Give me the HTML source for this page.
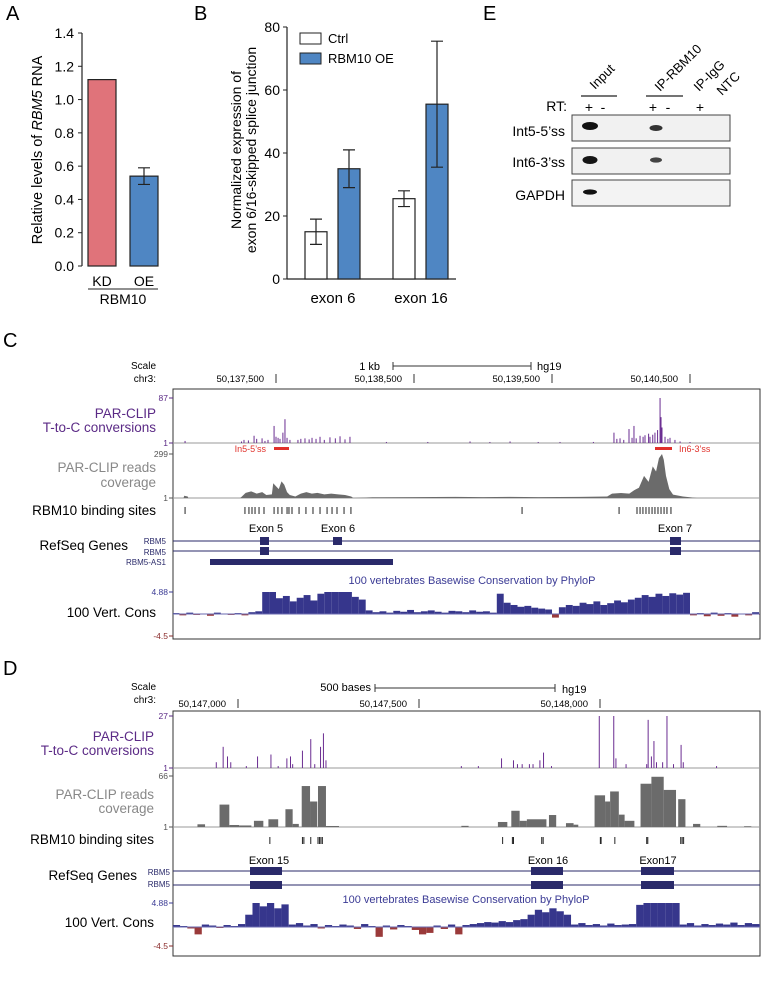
<!DOCTYPE html>
<html><head><meta charset="utf-8"><style>
html,body{margin:0;padding:0;background:#fff;}
svg{display:block;font-family:"Liberation Sans",sans-serif;}
</style></head><body>
<svg id="fig" width="761" height="983" viewBox="0 0 761 983" xmlns="http://www.w3.org/2000/svg">
<text x="6" y="20" font-size="20">A</text>
<text x="194" y="20" font-size="20">B</text>
<text x="483" y="20" font-size="20">E</text>
<text x="3" y="347" font-size="20">C</text>
<text x="3" y="675" font-size="20">D</text>

<g>
<line x1="82" y1="33" x2="82" y2="266" stroke="#222" stroke-width="1.2"/>
<text transform="translate(42,150) rotate(-90)" text-anchor="middle" font-size="14.5">Relative levels of <tspan font-style="italic">RBM5</tspan> RNA</text>
<text x="102" y="286" text-anchor="middle" font-size="14">KD</text>
<text x="144" y="286" text-anchor="middle" font-size="14">OE</text>
<line x1="88" y1="289" x2="158" y2="289" stroke="#222" stroke-width="1"/>
<text x="123" y="304" text-anchor="middle" font-size="14">RBM10</text>
</g>

<g>
<line x1="287" y1="27" x2="287" y2="279" stroke="#222" stroke-width="1.2"/>
<line x1="287" y1="279" x2="456" y2="279" stroke="#222" stroke-width="1.2"/>
<text transform="translate(241,150) rotate(-90)" text-anchor="middle" font-size="14">Normalized expression of</text>
<text transform="translate(256,150) rotate(-90)" text-anchor="middle" font-size="14">exon 6/16-skipped splice junction</text>
<text x="333" y="303" text-anchor="middle" font-size="15">exon 6</text>
<text x="421" y="303" text-anchor="middle" font-size="15">exon 16</text>
<rect x="300" y="33" width="21" height="11" fill="#fff" stroke="#222"/>
<text x="328" y="43" font-size="13">Ctrl</text>
<rect x="300" y="53" width="21" height="11" fill="#4f86c3" stroke="#222"/>
<text x="328" y="63" font-size="13">RBM10 OE</text>
</g>

<g>
<text transform="translate(595,90) rotate(-45)" font-size="13">Input</text>
<text transform="translate(660,92) rotate(-45)" font-size="13">IP-RBM10</text>
<text transform="translate(699,92) rotate(-45)" font-size="13">IP-IgG</text>
<text transform="translate(722,96) rotate(-45)" font-size="13">NTC</text>
<line x1="581" y1="96" x2="617" y2="96" stroke="#222" stroke-width="1.3"/>
<line x1="646" y1="96" x2="683" y2="96" stroke="#222" stroke-width="1.3"/>
<text x="567" y="111" text-anchor="end" font-size="14">RT:</text>
<text x="589" y="112" text-anchor="middle" font-size="14">+</text>
<text x="603" y="112" text-anchor="middle" font-size="14">-</text>
<text x="653" y="112" text-anchor="middle" font-size="14">+</text>
<text x="668" y="112" text-anchor="middle" font-size="14">-</text>
<text x="700" y="112" text-anchor="middle" font-size="14">+</text>
<rect x="572" y="115" width="158" height="26" fill="#f1f1f1" stroke="#444"/>
<rect x="572" y="148" width="158" height="26" fill="#f1f1f1" stroke="#444"/>
<rect x="572" y="180" width="158" height="26" fill="#f3f3f3" stroke="#444"/>
<text x="565" y="136" text-anchor="end" font-size="14">Int5-5’ss</text>
<text x="565" y="167" text-anchor="end" font-size="14">Int6-3’ss</text>
<text x="565" y="200" text-anchor="end" font-size="14">GAPDH</text>
<ellipse cx="590" cy="126" rx="8" ry="4" fill="#111"/>
<ellipse cx="656" cy="128" rx="6.5" ry="3" fill="#333"/>
<ellipse cx="590" cy="160" rx="7.5" ry="4" fill="#151515"/>
<ellipse cx="656" cy="160" rx="6" ry="2.6" fill="#444"/>
<ellipse cx="590" cy="192" rx="7" ry="2.6" fill="#111"/>
</g>

<g font-size="10">
<text x="156" y="369" text-anchor="end">Scale</text>
<text x="156" y="382" text-anchor="end">chr3:</text>
<text x="380" y="370" text-anchor="end" font-size="11">1 kb</text>
<line x1="393" y1="366" x2="531" y2="366" stroke="#333"/>
<line x1="393" y1="362" x2="393" y2="370" stroke="#333"/><line x1="531" y1="362" x2="531" y2="370" stroke="#333"/>
<text x="537" y="370" font-size="11">hg19</text>
<rect x="173" y="389" width="587" height="250" fill="none" stroke="#333"/>
<text x="156" y="418" text-anchor="end" font-size="13.5" fill="#5b2a86">PAR-CLIP</text>
<text x="156" y="432" text-anchor="end" font-size="13.5" fill="#5b2a86">T-to-C conversions</text>
<text x="156" y="472" text-anchor="end" font-size="13.5" fill="#888">PAR-CLIP reads</text>
<text x="156" y="487" text-anchor="end" font-size="13.5" fill="#888">coverage</text>
<text x="156" y="515" text-anchor="end" font-size="13.5">RBM10 binding sites</text>
<text x="128" y="550" text-anchor="end" font-size="13.5">RefSeq Genes</text>
<text x="156" y="617" text-anchor="end" font-size="13.5">100 Vert. Cons</text>
<text x="472" y="584" text-anchor="middle" font-size="11" fill="#3b3b95">100 vertebrates Basewise Conservation by PhyloP</text>
<text x="266" y="452" text-anchor="end" font-size="9" fill="#e0302a">In5-5’ss</text>
<rect x="274" y="447" width="15" height="3" fill="#e0302a"/>
<text x="679" y="452" font-size="9" fill="#e0302a">In6-3’ss</text>
<rect x="655" y="447" width="17" height="3" fill="#e0302a"/>
<text x="266" y="532" text-anchor="middle" font-size="11">Exon 5</text>
<text x="338" y="532" text-anchor="middle" font-size="11">Exon 6</text>
<text x="675" y="532" text-anchor="middle" font-size="11">Exon 7</text>
<text x="166" y="544" text-anchor="end" font-size="8" fill="#2a2a6a">RBM5</text>
<text x="166" y="555" text-anchor="end" font-size="8" fill="#2a2a6a">RBM5</text>
<text x="166" y="565" text-anchor="end" font-size="8" fill="#2a2a6a">RBM5-AS1</text>
<line x1="173" y1="541" x2="760" y2="541" stroke="#2a2a6a"/>
<line x1="173" y1="551" x2="760" y2="551" stroke="#2a2a6a"/>
<rect x="260" y="537" width="9" height="8" fill="#2a2a6a"/><rect x="333" y="537" width="9" height="8" fill="#2a2a6a"/><rect x="670" y="537" width="11" height="8" fill="#2a2a6a"/>
<rect x="260" y="547" width="9" height="8" fill="#2a2a6a"/><rect x="670" y="547" width="11" height="8" fill="#2a2a6a"/>
<rect x="210" y="559" width="183" height="6" fill="#2a2a6a"/>
</g>

<g font-size="10">
<text x="156" y="690" text-anchor="end">Scale</text>
<text x="156" y="703" text-anchor="end">chr3:</text>
<text x="371" y="691" text-anchor="end" font-size="11">500 bases</text>
<line x1="375" y1="688" x2="555" y2="688" stroke="#333"/>
<line x1="375" y1="684" x2="375" y2="692" stroke="#333"/><line x1="555" y1="684" x2="555" y2="692" stroke="#333"/>
<text x="562" y="693" font-size="11">hg19</text>
<rect x="173" y="711" width="587" height="245" fill="none" stroke="#333"/>
<text x="154" y="741" text-anchor="end" font-size="13.5" fill="#5b2a86">PAR-CLIP</text>
<text x="154" y="755" text-anchor="end" font-size="13.5" fill="#5b2a86">T-to-C conversions</text>
<text x="154" y="799" text-anchor="end" font-size="13.5" fill="#888">PAR-CLIP reads</text>
<text x="154" y="813" text-anchor="end" font-size="13.5" fill="#888">coverage</text>
<text x="154" y="844" text-anchor="end" font-size="13.5">RBM10 binding sites</text>
<text x="137" y="880" text-anchor="end" font-size="13.5">RefSeq Genes</text>
<text x="154" y="927" text-anchor="end" font-size="13.5">100 Vert. Cons</text>
<text x="466" y="903" text-anchor="middle" font-size="11" fill="#3b3b95">100 vertebrates Basewise Conservation by PhyloP</text>
<text x="269" y="864" text-anchor="middle" font-size="11">Exon 15</text>
<text x="548" y="864" text-anchor="middle" font-size="11">Exon 16</text>
<text x="658" y="864" text-anchor="middle" font-size="11">Exon17</text>
<text x="170" y="875" text-anchor="end" font-size="8" fill="#2a2a6a">RBM5</text>
<text x="170" y="887" text-anchor="end" font-size="8" fill="#2a2a6a">RBM5</text>
<line x1="173" y1="871" x2="760" y2="871" stroke="#2a2a6a"/>
<line x1="173" y1="885" x2="760" y2="885" stroke="#2a2a6a"/>
<rect x="250" y="867" width="32" height="8" fill="#2a2a6a"/><rect x="531" y="867" width="32" height="8" fill="#2a2a6a"/><rect x="641" y="867" width="33" height="8" fill="#2a2a6a"/>
<rect x="250" y="881" width="32" height="8" fill="#2a2a6a"/><rect x="531" y="881" width="32" height="8" fill="#2a2a6a"/><rect x="641" y="881" width="33" height="8" fill="#2a2a6a"/>
</g>
</svg>
<script>
const aCategories = ["KD", "OE"];
const aValues = [1.12, 0.54];
const aErrors = [0, 0.05];
const aTicks = [0, 0.2, 0.4, 0.6, 0.8, 1.0, 1.2, 1.4];
const bCategories = ["exon 6", "exon 16"];
const bCtrl = [15, 25.5];
const bCtrlErr = [4, 2.5];
const bOE = [35, 55.5];
const bOEErr = [6, 20];
const bTicks = [0, 20, 40, 60, 80];
const cTickPositions = [500, 1500, 2500, 3500];
const cTickLabels = ["50,137,500", "50,138,500", "50,139,500", "50,140,500"];
const cTcPos = [-159,250,268,300,341,360,399,420,442,486,500,515,529,550,565,580,601,659,680,710,740,761,790,819,850,891,930,964,1000,1036,1300,1600,1906,2050,2196,2400,2558,2800,2949,2970,2993,3020,3058,3080,3094,3110,3138,3160,3174,3200,3210,3230,3246,3265,3283,3290,3297,3319,3340,3355,3391,3428,3500];
const cTcVal = [4,3,6,5,14,8,9,4,6,33,12,10,8,20,46,10,6,6,8,9,7,10,8,12,6,11,9,13,7,12,2,2,3,2,3,2,2,2,20,8,9,6,27,10,33,9,14,12,15,18,12,16,20,25,87,50,30,12,8,10,6,3,2];
const cCovPos = [-246,-170,-165,-140,-135,240,250,280,320,360,400,430,470,480,500,520,540,560,580,600,640,680,720,760,800,850,900,950,1000,1045,1060,1200,1500,1800,2000,2200,2400,2700,2900,2935,3000,3060,3094,3130,3167,3200,3230,3254,3275,3297,3310,3326,3350,3377,3449,3500,3550,4007];
const cCovVal = [0,0,15,10,0,0,8,35,45,30,40,20,25,100,80,60,113,90,40,20,10,30,40,30,35,25,30,25,20,10,0,5,6,8,6,8,6,8,10,30,34,30,52,70,150,110,215,180,270,299,260,150,60,23,10,5,0,0];
const cSites = [-159,275,304,326,348,377,413,486,514,543,580,616,594,667,717,768,819,870,906,942,993,1043,2283,2986,3116,3138,3159,3181,3203,3225,3246,3268,3290,3312,3333,3362];
const cConsStart = -250;
const cConsStep = 50;
const cCons = [0.2,-0.3,0.3,-0.2,0.1,-0.4,0.3,0,-0.2,0.2,-0.3,0.4,0.6,
 4.88,4.88,3.5,4.0,2.8,3.6,4.2,3.0,4.5,4.88,4.88,4.88,4.88,3.8,3.2,
 0.8,0.4,0.6,0.3,0.7,0.5,0.9,0.4,0.6,0.8,0.5,0.3,0.7,0.6,0.4,0.8,0.5,0.6,0.3,
 4.5,2.5,2.0,1.6,1.8,1.4,1.2,1.0,
 -0.8,
 1.5,2.0,1.8,2.5,2.2,2.8,2.0,2.4,3.0,2.6,3.2,
 3.6,4.2,3.8,4.5,4.0,4.6,4.3,4.7,
 -0.3,0.2,-0.5,0.3,-0.4,0.2,-0.6,0.1,-0.3,0.4,-0.2];
const dTickPositions = [0, 500, 1000];
const dTickLabels = ["50,147,000", "50,147,500", "50,148,000"];
const dTcPos = [-60,-41,-29,-20,23,54,91,111,135,145,151,178,201,212,228,236,243,617,664,728,761,772,785,805,815,834,844,866,998,1038,1044,1072,1129,1133,1142,1149,1156,1173,1185,1203,1224,1230,1322];
const dTcVal = [3,11,6,3,1,6,7,1,5,6,2,9,15,2,11,18,4,1,1,5,4,2,2,2,2,4,8,1,27,27,5,2,2,25,6,14,3,3,27,2,12,3,1];
const dCovStart = [-112,-51,-24,3,44,84,131,151,176,199,221,243,617,718,755,778,798,859,906,927,985,1014,1028,1052,1068,1112,1142,1176,1216,1257,1324,1398];
const dCovEnd = [-91,-24,3,37,70,111,151,168,199,219,243,279,637,744,778,798,852,879,927,940,1014,1028,1052,1068,1095,1142,1176,1210,1236,1277,1351,1418];
const dCovVal = [3.5,29,2.6,2,8,10,23,4,53,33,53,1.3,1.5,6.5,21,8,10,15.5,5,3,41,33,46,16,8,56,65,48,36,4,1.5,1];
const dSites = [88,178,182,201,221,225,229,233,731,758,761,839,843,1001,1003,1041,1129,1132,1223,1227,1231];
const dConsStart = -180;
const dConsStep = 20;
const dCons = [0.4,0.2,-0.3,-1.5,0.5,0.3,-0.2,0.4,0.2,0.6,
 2.5,4.88,4.2,4.88,3.8,4.6,
 0.5,0.8,0.3,0.6,-0.3,0.4,0.2,0.5,0.3,-0.4,0.6,0.2,-2.0,0.3,-0.5,0.4,0.2,-0.6,-1.5,-1.2,0.3,-0.4,0.5,-1.5,
 0.4,0.6,0.8,1.0,0.9,1.2,1.0,1.4,1.6,
 2.5,3.5,3.0,3.8,3.2,2.5,
 0.5,0.8,0.4,0.6,0.3,0.7,0.4,0.5,0.6,
 4.5,4.88,4.88,4.88,4.88,4.88,
 0.5,0.8,0.3,0.6,0.4,0.7,0.5,0.9,0.4,0.8,0.6,0.5];

const NS = "http://www.w3.org/2000/svg";
const svg = document.getElementById("fig");
function mk(tag, attrs) {
  const e = document.createElementNS(NS, tag);
  for (const k in attrs) e.setAttribute(k, attrs[k]);
  svg.appendChild(e);
  return e;
}

const yA = v => 266 - v * (233 / 1.4);
aTicks.forEach(t => {
  const l = mk("line", {x1: 78, x2: 82, y1: yA(t), y2: yA(t), stroke: "#222"});
  
  
  const tx = mk("text", {x: 74, y: yA(t) + 5, "text-anchor": "end", "font-size": 14});
  tx.textContent = t.toFixed(1);
  
  
});
const aX = [88, 130];
const aColors = ["#e0737a", "#4f86c3"];
aCategories.forEach((c, i) => {
  const r = mk("rect", {x: aX[i], y: yA(aValues[i]), width: 28, height: yA(0) - yA(aValues[i]), fill: aColors[i], stroke: "#222", "stroke-width": 1.2});
  
  
  if (aErrors[i] > 0) {
    const cx = aX[i] + 14;
    const e = mk("path", {d: `M${cx},${yA(aValues[i]+aErrors[i])}V${yA(aValues[i]-aErrors[i])}M${cx-6},${yA(aValues[i]+aErrors[i])}H${cx+6}M${cx-6},${yA(aValues[i]-aErrors[i])}H${cx+6}`, stroke: "#222", fill: "none", "stroke-width": 1.2});
    
    
  }
});

const yB = v => 279 - v * (252 / 80);
bTicks.forEach(t => {
  const l = mk("line", {x1: 283, x2: 287, y1: yB(t), y2: yB(t), stroke: "#222"});
  
  
  const tx = mk("text", {x: 280, y: yB(t) + 5, "text-anchor": "end", "font-size": 14});
  tx.textContent = t;
  
  
});
const bGroupX = [305, 393];
function errBar(cx, v, err, name) {
  const e = mk("path", {d: `M${cx},${yB(v+err)}V${yB(v-err)}M${cx-6},${yB(v+err)}H${cx+6}M${cx-6},${yB(v-err)}H${cx+6}`, stroke: "#222", fill: "none", "stroke-width": 1.2});
  
  
}
bCategories.forEach((c, i) => {
  const x0 = bGroupX[i];
  const r1 = mk("rect", {x: x0, y: yB(bCtrl[i]), width: 22, height: yB(0) - yB(bCtrl[i]), fill: "#fff", stroke: "#222", "stroke-width": 1.2});
  
  
  const r2 = mk("rect", {x: x0 + 33, y: yB(bOE[i]), width: 22, height: yB(0) - yB(bOE[i]), fill: "#4f86c3", stroke: "#222", "stroke-width": 1.2});
  
  
  errBar(x0 + 11, bCtrl[i], bCtrlErr[i], 'b-error-ctrl-' + i);
  errBar(x0 + 44, bOE[i], bOEErr[i], 'b-error-oe-' + i);
});

function drawGenome(p) {
  const xs = v => p.x0 + (v - p.ref) * p.k;
  const clip = v => Math.max(173, Math.min(760, v));
  p.tickPos.forEach((t, i) => {
    const l = mk("line", {x1: xs(t), x2: xs(t), y1: p.tickY - 5, y2: p.tickY + 4, stroke: "#333"});
    
    
    const tx = mk("text", {x: xs(t) - 12, y: p.tickY + 3, "text-anchor": "end", "font-size": 9.5});
    tx.textContent = p.tickLab[i];
    
    
  });
  const ax = [[p.tcTop, p.tcMaxLab, "#5b2a86"], [p.tcBase, "1", "#5b2a86"], [p.covTop, p.covMaxLab, "#555"], [p.covBase, "1", "#555"], [p.consTop, "4.88", "#3b3b95"], [p.consBot, "-4.5", "#8a2b2b"]];
  ax.forEach(a => {
    const t = mk("text", {x: 168, y: a[0] + 3, "text-anchor": "end", "font-size": 8.5, fill: a[2]});
    t.textContent = a[1];
    
    
    const l = mk("line", {x1: 169, x2: 173, y1: a[0], y2: a[0], stroke: a[2]});
    
    
  });
  const base1 = mk("line", {x1: 173, x2: 760, y1: p.tcBase, y2: p.tcBase, stroke: "#999"});
  
  
  const tcH = p.tcBase - p.tcTop;
  p.tcPos.forEach((pos, i) => {
    const x = xs(pos);
    const y = p.tcBase - tcH * p.tcVal[i] / p.tcMax;
    const l = mk("line", {x1: x, x2: x, y1: p.tcBase, y2: y, stroke: "#6a2c91", "stroke-width": 1});
    
    
  });
  const covH = p.covBase - p.covTop;
  const base2 = mk("line", {x1: 173, x2: 760, y1: p.covBase, y2: p.covBase, stroke: "#999"});
  
  
  if (p.covPos) {
    let d = `M${clip(xs(p.covPos[0]))},${p.covBase}`;
    p.covPos.forEach((pos, i) => { d += `L${clip(xs(pos))},${p.covBase - covH * p.covVal[i] / p.covMax}`; });
    d += `L${clip(xs(p.covPos[p.covPos.length-1]))},${p.covBase}Z`;
    const a = mk("path", {d: d, fill: "#6b6b6b"});
    
    
  } else {
    p.covStart.forEach((s, i) => {
      const y = p.covBase - covH * p.covVal[i] / p.covMax;
      const r = mk("rect", {x: xs(s), y: y, width: xs(p.covEnd[i]) - xs(s), height: p.covBase - y, fill: "#6b6b6b"});
      
      
    });
  }
  p.sites.forEach(s => {
    const l = mk("line", {x1: xs(s), x2: xs(s), y1: p.siteY - 3, y2: p.siteY + 4, stroke: "#222", "stroke-width": 1});
    
    
  });
  const consH = p.consMid - p.consTop;
  p.cons.forEach((v, i) => {
    const x = clip(xs(p.consStart + p.consStep * i));
    const x2 = clip(xs(p.consStart + p.consStep * (i + 1)));
    if (x2 <= x) return;
    const y = p.consMid - consH * v / 4.88;
    const r = mk("rect", {x: x, y: Math.min(y, p.consMid), width: x2 - x, height: Math.abs(p.consMid - y), fill: v >= 0 ? "#36368c" : "#9a3a3a"});
    
    
  });
  const cb = mk("line", {x1: 173, x2: 760, y1: p.consMid, y2: p.consMid, stroke: "#6a6ab0", "stroke-width": 1});
  
  
}

drawGenome({id: "c", x0: 276, ref: 500, k: 0.138, tickPos: cTickPositions, tickLab: cTickLabels, tickY: 379,
  tcTop: 398, tcBase: 443, tcMax: 87, tcMaxLab: "87", tcPos: cTcPos, tcVal: cTcVal,
  covTop: 454, covBase: 498, covMax: 299, covMaxLab: "299", covPos: cCovPos, covVal: cCovVal,
  sites: cSites, siteY: 510, consTop: 592, consMid: 614, consBot: 636, cons: cCons, consStart: cConsStart, consStep: cConsStep});

drawGenome({id: "d", x0: 238, ref: 0, k: 0.362, tickPos: dTickPositions, tickLab: dTickLabels, tickY: 704,
  tcTop: 716, tcBase: 768, tcMax: 27, tcMaxLab: "27", tcPos: dTcPos, tcVal: dTcVal,
  covTop: 776, covBase: 827, covMax: 66, covMaxLab: "66", covStart: dCovStart, covEnd: dCovEnd, covVal: dCovVal,
  sites: dSites, siteY: 840, consTop: 903, consMid: 927, consBot: 946, cons: dCons, consStart: dConsStart, consStep: dConsStep});
</script>
</body></html>
